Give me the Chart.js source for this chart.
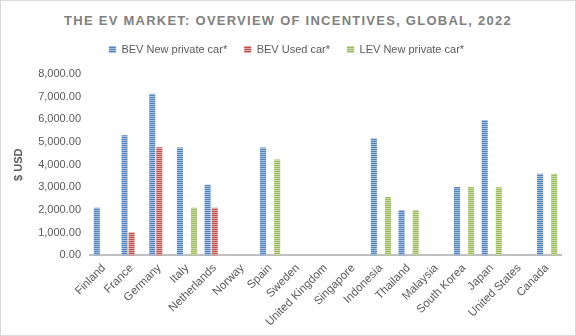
<!DOCTYPE html>
<html>
<head>
<meta charset="utf-8">
<script src="https://cdn.jsdelivr.net/npm/chart.js@4.4.1/dist/chart.umd.min.js"></script>
<style>
  html, body { margin: 0; padding: 0; background: #fff; }
  #wrap { position: relative; width: 576px; height: 336px; box-sizing: border-box; border: 1px solid #d9d9d9; overflow: hidden; }
  #title { position: absolute; left: 0; right: 0; top: 12px; text-align: center; font-family: "Liberation Sans", Arial, sans-serif; font-weight: bold; font-size: 13px; letter-spacing: 1.25px; color: #808080; }
  canvas { position: absolute; left: 0; top: 0; }
</style>
</head>
<body>
<div id="wrap">
  <div id="title">THE EV MARKET: OVERVIEW OF INCENTIVES, GLOBAL, 2022</div>
  <canvas id="c" width="574" height="334"></canvas>
</div>
<script>
const categories = ["Finland","France","Germany","Italy","Netherlands","Norway","Spain","Sweden","United Kingdom","Singapore","Indonesia","Thailand","Malaysia","South Korea","Japan","United States","Canada"];
const seriesNames = ["BEV New private car*","BEV Used car*","LEV New private car*"];
const bevNew  = [2100, 5300, 7130, 4760, 3110, null, 4760, null, null, null, 5170, 2000, null, 3020, 5970, null, 3600];
const bevUsed = [null, 1020, 4770, null, 2100, null, null, null, null, null, null, null, null, null, null, null, null];
const levNew  = [null, null, null, 2100, null, null, 4230, null, null, null, 2580, 2000, null, 3020, 3000, null, 3600];
const yTicks = [0, 1000, 2000, 3000, 4000, 5000, 6000, 7000, 8000];

function stripe(base, light) {
  const c = document.createElement('canvas');
  c.width = 4; c.height = 2;
  const x = c.getContext('2d');
  x.fillStyle = base; x.fillRect(0, 0, 4, 1);
  x.fillStyle = light; x.fillRect(0, 1, 4, 1);
  return x.createPattern(c, 'repeat');
}
const blue = stripe('#4f81bd', '#a9c2e2');
const red = stripe('#c0504d', '#e3a9a7');
const green = stripe('#9bbb59', '#cddcac');

const txt = '#595959';
const fam = '"Liberation Sans", Arial, sans-serif';
const font = { family: fam, size: 11 };

const legendHeightFix = {
  id: 'legendHeightFix',
  beforeInit(chart) {
    const lg = chart.legend;
    if (!lg) return;
    const orig = lg.fit;
    lg.fit = function () { orig.call(this); this.height = 47; };
  }
};

new Chart(document.getElementById('c'), {
  type: 'bar',
  data: {
    labels: categories,
    datasets: [
      { label: seriesNames[0], data: bevNew, backgroundColor: blue, borderWidth: 0 },
      { label: seriesNames[1], data: bevUsed, backgroundColor: red, borderWidth: 0 },
      { label: seriesNames[2], data: levNew, backgroundColor: green, borderWidth: 0 }
    ]
  },
  plugins: [legendHeightFix],
  options: {
    responsive: false,
    animation: false,
    categoryPercentage: 0.764,
    barPercentage: 0.857,
    layout: { padding: { top: 26, left: 11, right: 14, bottom: 0 } },
    plugins: {
      title: { display: false },
      tooltip: { enabled: false },
      legend: {
        position: 'top',
        labels: { boxWidth: 7, boxHeight: 7, color: txt, font: font, padding: 17 }
      }
    },
    scales: {
      x: {
        grid: { display: false, drawTicks: false },
        border: { display: true, color: '#bfbfbf', width: 2 },
        ticks: { color: txt, font: { family: fam, size: 11.5 }, maxRotation: 45, minRotation: 45, autoSkip: false, padding: 6 }
      },
      y: {
        min: 0, max: 8000,
        afterBuildTicks: (ax) => { ax.ticks = yTicks.map(v => ({ value: v })); },
        grid: { display: false, drawTicks: false },
        border: { display: false },
        ticks: {
          color: txt, font: font, padding: 9,
          callback: (v) => Number(v).toLocaleString('en-US', { minimumFractionDigits: 2, maximumFractionDigits: 2 })
        },
        title: { display: true, text: '$ USD', color: txt, font: { family: fam, size: 11, weight: 'bold' }, padding: { top: 0, bottom: 4 } }
      }
    }
  }
});
</script>
</body>
</html>
